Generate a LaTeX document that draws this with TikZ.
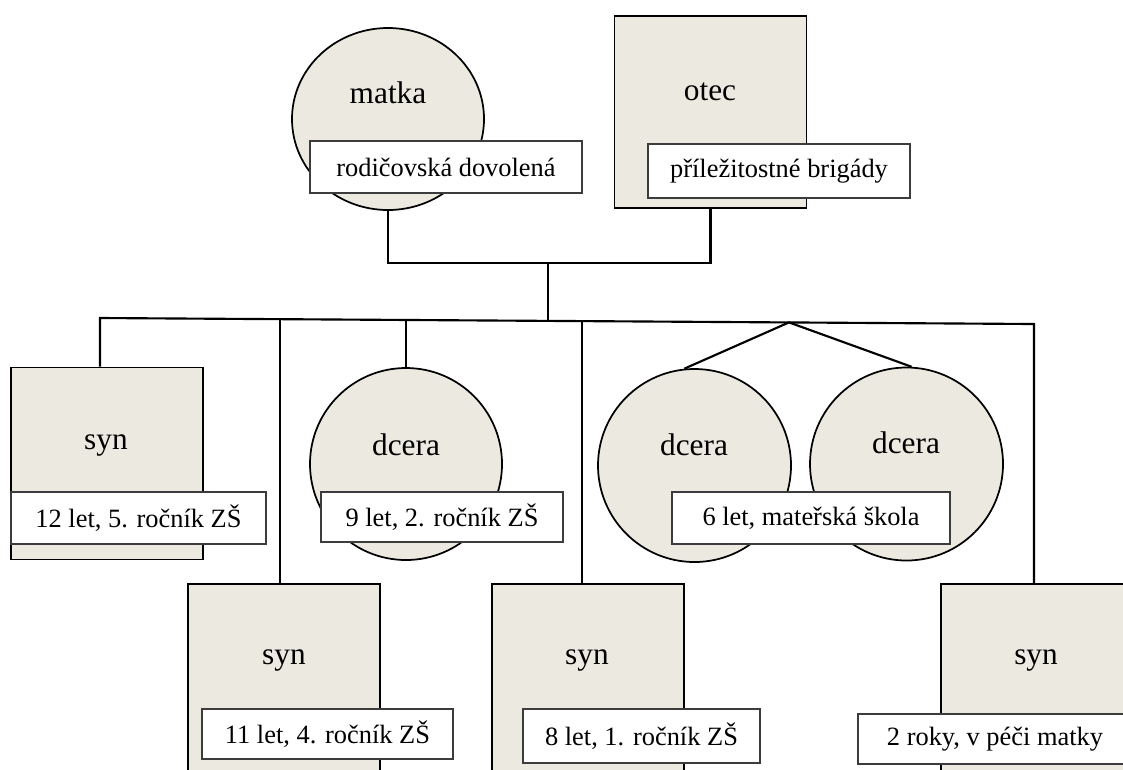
\documentclass[tikz,border=0pt]{standalone}
\usepackage{fontspec}
\setmainfont{Liberation Serif}
\newfontfamily\treefont{Liberation Serif}
\usetikzlibrary{shapes.geometric,calc}
\definecolor{shapefill}{RGB}{236,234,224}
\definecolor{tagline}{RGB}{60,60,60}
\begin{document}
\begin{tikzpicture}[x=0.75pt,y=-0.75pt,
  female/.style={ellipse,draw=black,line width=1.3pt,fill=shapefill,inner sep=0pt,
                 minimum width=144pt,minimum height=144pt},
  male/.style={rectangle,draw=black,line width=1.3pt,fill=shapefill,inner sep=0pt,
               minimum width=144pt,minimum height=144pt},
  tag/.style={rectangle,draw=tagline,line width=0.8pt,fill=white,inner sep=0pt,
              minimum height=39pt,font=\treefont\fontsize{19.8pt}{22pt}\selectfont},
  who/.style={font=\treefont\fontsize{23.5pt}{26pt}\selectfont,inner sep=0pt},
  link/.style={line width=1.6pt,draw=black,line join=miter}]
\clip (0,0) rectangle (1123,769);
\fill[white] (0,0) rectangle (1123,769);

% parents
\node[female,minimum height=136.5pt] (matka) at (388,119) {};
\node[male] (otec) at (710.5,112) {};

% children
\node[male] (syn1) at (107,463.5) {};
\node[female] (dcera1) at (406,464) {};
\node[female,minimum width=144.75pt,minimum height=144.75pt] (dcera2) at (694.5,465.5) {};
\node[female,minimum width=144.75pt,minimum height=144.75pt] (dcera3) at (906.5,464) {};
\node[male] (syn2) at (284,680) {};
\node[male] (syn3) at (588,680) {};
\node[male] (syn4) at (1037,680) {};

% connectors
\coordinate (pj) at (548,263);
\coordinate (bmid) at (548,320.9);
\coordinate (busL) at (100,318);
\coordinate (busR) at (1034,324);
\coordinate (b2) at (280,319.2);
\coordinate (b3) at (406,320);
\coordinate (b4) at (582,321.1);
\coordinate (twin) at (789,322.4);

\draw[link] (matka.south) |- (pj) -| (otec.south);
\draw[link] (pj) -- (bmid);
\draw[link] (busL |- syn1.north) -- (busL) -- (busR) -- (busR |- syn4.north);
\draw[link] (b2) -- (b2 |- syn2.north);
\draw[link] (b3) -- (dcera1.north);
\draw[link] (b4) -- (b4 |- syn3.north);
\draw[link] (dcera2.96) -- (twin) -- (dcera3.87);

% names
\node[who] (nmatka) at (388,93) {matka};
\node[who] (notec) at (710,92) {otec};
\node[who] (nsyn1) at (106,445) {syn};
\node[who] (ndcera1) at (406,445) {dcera};
\node[who] (ndcera2) at (694,445) {dcera};
\node[who] (ndcera3) at (906,443) {dcera};
\node[who] (nsyn2) at (284,660) {syn};
\node[who] (nsyn3) at (587,660) {syn};
\node[who] (nsyn4) at (1036,660) {syn};

% notes
\node[tag,minimum width=204pt] (tmatka) at (446,167) {rodičovská dovolená};
\node[tag,minimum width=196.5pt,minimum height=40.5pt] (totec) at (779,171) {příležitostné brigády};
\node[tag,minimum width=191.25pt] (tsyn1) at (138.5,518) {12 let, 5. ročník ZŠ};
\node[tag,minimum width=181.5pt,minimum height=37.5pt] (tdcera1) at (442,517) {9 let, 2. ročník ZŠ};
\node[tag,minimum width=208.5pt] (tdvojcata) at (811,518) {6 let, mateřská škola};
\node[tag,minimum width=188.25pt,minimum height=37.5pt] (tsyn2) at (327.5,734) {11 let, 4. ročník ZŠ};
\node[tag,minimum width=177.75pt,minimum height=40.5pt] (tsyn3) at (641.5,736) {8 let, 1. ročník ZŠ};
\node[tag,minimum width=205.5pt,minimum height=37.5pt] (tsyn4) at (995,739) {2 roky, v péči matky};
\end{tikzpicture}
\end{document}
